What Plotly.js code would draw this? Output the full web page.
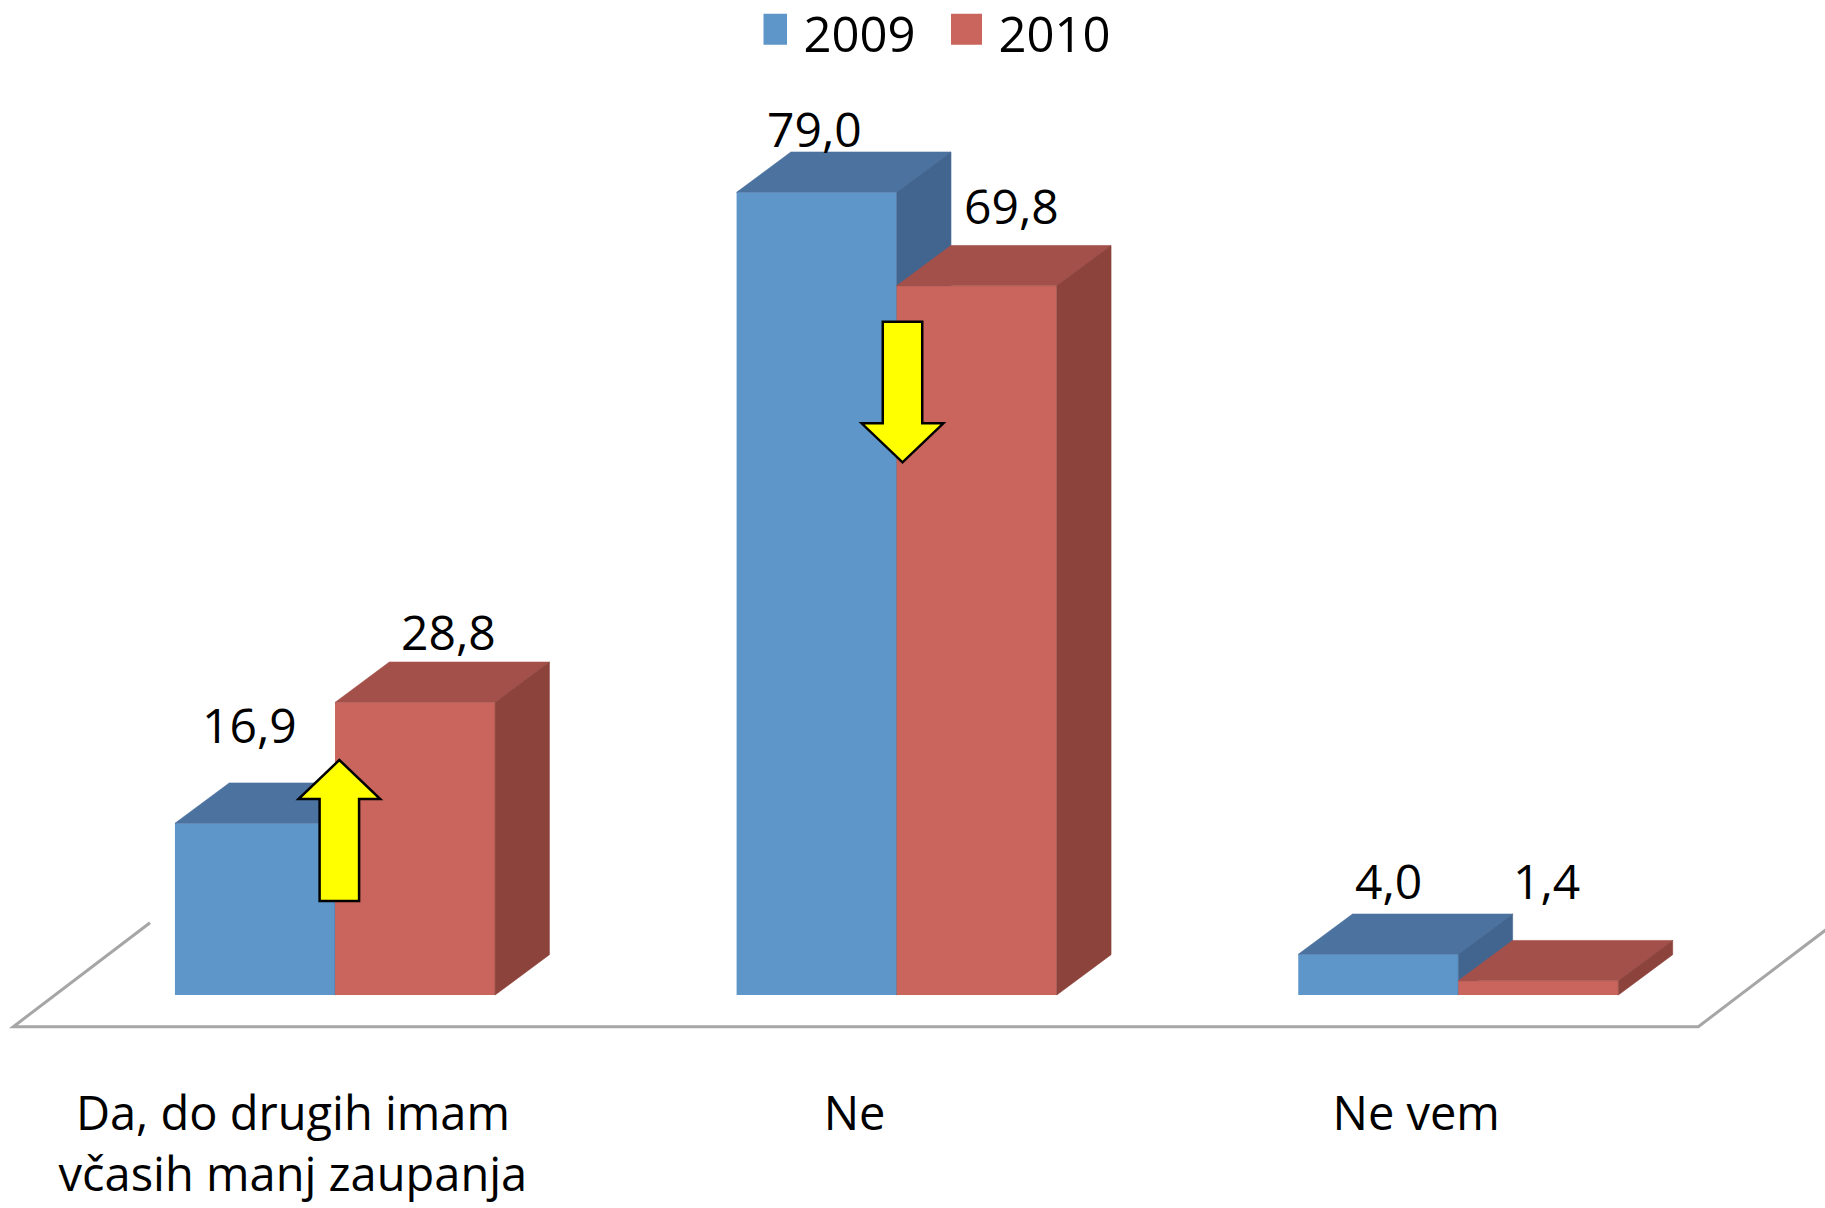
<!DOCTYPE html>
<html>
<head>
<meta charset="utf-8">
<script src="https://cdn.plot.ly/plotly-3.0.1.min.js"></script>
<style>
  html, body { margin: 0; padding: 0; background: #ffffff; }
  #chart { width: 1825px; height: 1208px; }
</style>
</head>
<body>
<div id="chart"></div>
<script>
// ---------------- data ----------------
const categories = ["Da, do drugih imam<br>včasih manj zaupanja", "Ne", "Ne vem"];
const seriesNames = ["2009", "2010"];
const values2009 = [16.9, 79.0, 4.0];
const values2010 = [28.8, 69.8, 1.4];

// ---------------- styles ----------------
const FONT = '"Open Sans", "Noto Sans", "DejaVu Sans", sans-serif';
const colors = {
  "2009": { front: "#5E96CA", top: "#4C72A0", side: "#42658F" },
  "2010": { front: "#C9655C", top: "#A4504A", side: "#8B433B" }
};
const BAR_W = 0.285;      // bar width in category units
const DX = 0.0967;        // 3D depth offset (x, category units)
const DY = 3.97;          // 3D depth offset (y, value units)
const LABEL_SIZE = 48;
// label nudges in px: [xshift, baseline height above bar's front top]
const labelNudge2009 = [[-5, 79], [-2, 44], [10, 54]];
const labelNudge2010 = [[33, 51], [35, 61], [8, 81]];

const catIdx = categories.map((c, i) => i);
const fmt = v => v.toFixed(1).replace('.', ',');

function faces(vals, offset) {
  const top = { x: [], y: [] }, side = { x: [], y: [] };
  vals.forEach((v, i) => {
    const x0 = i + offset, x1 = x0 + BAR_W;
    top.x.push(x0, x1, x1 + DX, x0 + DX, x0, null);
    top.y.push(v, v, v + DY, v + DY, v, null);
    side.x.push(x1, x1 + DX, x1 + DX, x1, x1, null);
    side.y.push(0, DY, v + DY, v, 0, null);
  });
  return { top, side };
}

const traces = [];
const seriesVals = [values2009, values2010];
const offsets = [-BAR_W, 0];
seriesNames.forEach((name, s) => {
  const c = colors[name];
  traces.push({
    type: "bar", name: name, x: catIdx, y: seriesVals[s],
    width: BAR_W, offset: offsets[s],
    marker: { color: c.front, line: { width: 0 } },
    zorder: s, hoverinfo: "skip", showlegend: true
  });
  const f = faces(seriesVals[s], offsets[s]);
  traces.push({
    type: "scatter", mode: "lines", x: f.top.x, y: f.top.y, fill: "toself",
    fillcolor: c.top, line: { color: c.top, width: 0.6 }, zorder: s,
    hoverinfo: "skip", showlegend: false
  });
  traces.push({
    type: "scatter", mode: "lines", x: f.side.x, y: f.side.y, fill: "toself",
    fillcolor: c.side, line: { color: c.side, width: 0.6 }, zorder: s,
    hoverinfo: "skip", showlegend: false
  });
});

// value labels
const annotations = [];
[labelNudge2009, labelNudge2010].forEach((nudges, s) => {
  seriesVals[s].forEach((v, i) => {
    annotations.push({
      x: i + offsets[s] + BAR_W / 2, y: v, xref: "x", yref: "y",
      text: fmt(v), showarrow: false, xanchor: "center", yanchor: "bottom",
      xshift: nudges[i][0], yshift: nudges[i][1] - (0.293 * LABEL_SIZE + 1),
      font: { family: FONT, size: LABEL_SIZE, color: "#000000" }
    });
  });
});

// yellow block arrows (decoration)
function blockArrow(cx, yTail, yTip) {
  const sw = 0.0703 / 2, hw = 0.1455 / 2, hl = 3.84 * Math.sign(yTip - yTail);
  const yb = yTip - hl;
  return `M${cx - sw},${yTail} L${cx - sw},${yb} L${cx - hw},${yb} L${cx},${yTip} ` +
         `L${cx + hw},${yb} L${cx + sw},${yb} L${cx + sw},${yTail} Z`;
}
// floor (decoration)
const floorFrontY = -3.12;
const shapes = [
  { type: "path", xref: "x", yref: "y",
    path: `M-0.3294,7.116 L-0.5728,${floorFrontY} L2.4273,${floorFrontY} L2.697,8.2`,
    line: { color: "#A6A6A6", width: 3 }, layer: "below" },
  { type: "path", xref: "x", yref: "y", path: blockArrow(0.0077, 9.25, 23.13),
    fillcolor: "#FFFF00", line: { color: "#000000", width: 2.5 }, layer: "above" },
  { type: "path", xref: "x", yref: "y", path: blockArrow(1.0104, 66.27, 52.43),
    fillcolor: "#FFFF00", line: { color: "#000000", width: 2.5 }, layer: "above" }
];

const layout = {
  width: 1825, height: 1208, autosize: false,
  margin: { l: 0, r: 0, t: 0, b: 168, pad: 0 },
  paper_bgcolor: "#ffffff", plot_bgcolor: "#ffffff",
  font: { family: FONT, color: "#000000" },
  showlegend: true,
  legend: {
    orientation: "h", x: 763.5 / 1825, xanchor: "left", y: 1.0, yanchor: "top",
    font: { family: FONT, size: 49, color: "#000000" },
    entrywidth: 150, entrywidthmode: "pixels",
    bgcolor: "rgba(0,0,0,0)", borderwidth: 0, traceorder: "normal"
  },
  xaxis: {
    range: [-0.5965, 2.6529], tickvals: catIdx.map(i => i - 0.075), ticktext: categories,
    showgrid: false, zeroline: false, showline: false, ticks: "",
    ticklabelstandoff: 42,
    tickfont: { family: FONT, size: 47, color: "#000000" }, fixedrange: true
  },
  yaxis: { range: [-4.429, 97.93], visible: false, fixedrange: true },
  annotations: annotations,
  shapes: shapes
};

Plotly.newPlot("chart", traces, layout, { displayModeBar: false, staticPlot: true }).then(gd => {
  gd.querySelectorAll(".legend .traces").forEach(g => {
    g.querySelectorAll("path").forEach(p => {
      const d = (p.getAttribute("d") || "").replace(/\s/g, "");
      if (d === "M6,6H-6V-6H6Z") {
        p.setAttribute("d", "M15.5,15.5H-15.5V-15.5H15.5Z");
        p.setAttribute("transform", "translate(8,-4)");
      }
    });
  });
  // nudge the legend block up a few pixels to sit at the very top edge
  const leg = gd.querySelector("g.legend");
  if (leg) {
    const t = leg.getAttribute("transform") || "";
    const m = t.match(/translate\(\s*([-\d.]+)[ ,]+([-\d.]+)\s*\)/);
    if (m) leg.setAttribute("transform", `translate(${+m[1]},${+m[2] - 5})`);
  }
});
</script>
</body>
</html>
